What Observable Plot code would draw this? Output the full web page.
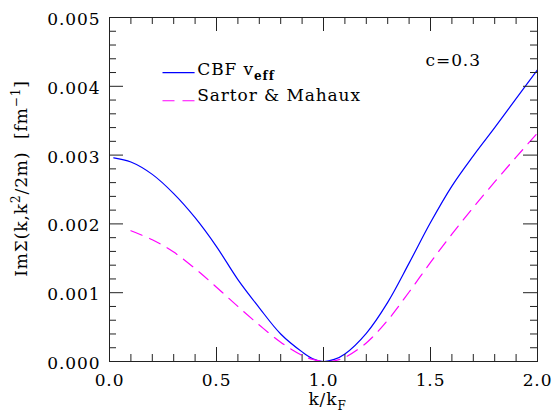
<!DOCTYPE html>
<html><head><meta charset="utf-8">
<script src="https://cdn.jsdelivr.net/npm/d3@7"></script>
<script src="https://cdn.jsdelivr.net/npm/@observablehq/plot@0.6"></script>
<style>
body{margin:0;background:#fff;}
#chart svg{display:block;}
</style>
</head><body><div id="chart"></div>
<script>
// k/kF and Im Sigma values
const kCBF  = [0.02,0.1,0.2,0.3,0.4,0.5,0.6,0.7,0.8,0.9,0.95,1.0,1.05,1.1,1.2,1.3,1.4,1.5,1.6,1.7,1.8,1.9,2.0];
const imCBF = [0.00296,0.0029,0.00272,0.00244,0.00209,0.00167,0.00119,0.00078,0.00040,0.00014,0.00004,0.0,0.00003,0.00011,0.00041,0.00086,0.00143,0.00202,0.00255,0.00299,0.0034,0.00382,0.00424];
const kSM   = [0.1,0.2,0.3,0.4,0.5,0.6,0.7,0.8,0.9,0.95,1.0,1.05,1.1,1.2,1.3,1.4,1.5,1.6,1.7,1.8,1.9,2.0];
const imSM  = [0.0019,0.00177,0.00159,0.00135,0.00108,0.0008,0.00053,0.00028,0.00009,0.00003,0.0,0.00001,0.00006,0.00027,0.0006,0.00101,0.00144,0.00185,0.00224,0.00261,0.00297,0.00332];

const xMajor = [0,0.5,1,1.5,2];
const xMinor = [0.1,0.2,0.3,0.4,0.6,0.7,0.8,0.9,1.1,1.2,1.3,1.4,1.6,1.7,1.8,1.9];
const yMajor = [0,0.001,0.002,0.003,0.004,0.005];
const yMinor = [0.0002,0.0004,0.0006,0.0008,0.0012,0.0014,0.0016,0.0018,0.0022,0.0024,0.0026,0.0028,0.0032,0.0034,0.0036,0.0038,0.0042,0.0044,0.0046,0.0048];

const seriesNames = ["CBF v_*{eff}", "Sartor & Mahaux"];
const seriesColors = ["#0000ff", "#ff00ff"];
const xLabel = "k/k_{F}";
const yLabel = "ImΣ(k,k^{2}/2m)  [fm^{−1}]";
const note = "c=0.3";

const W = 553, H = 418, mL = 109, mR = 16, mT = 17, mB = 57;
const pw = W - mL - mR, ph = H - mT - mB;
const major = 14, minor = 7, axisColor = "#222";

const cbf = kCBF.map((k, i) => ({k, v: imCBF[i]}));
const sm = kSM.map((k, i) => ({k, v: imSM[i]}));

const tickMarks = [
  Plot.tickX(xMajor, {x: d => d, insetTop: ph - major, stroke: axisColor}),
  Plot.tickX(xMajor, {x: d => d, insetBottom: ph - major, stroke: axisColor}),
  Plot.tickX(xMinor, {x: d => d, insetTop: ph - minor, stroke: axisColor}),
  Plot.tickX(xMinor, {x: d => d, insetBottom: ph - minor, stroke: axisColor}),
  Plot.tickY(yMajor, {y: d => d, insetRight: pw - major, stroke: axisColor}),
  Plot.tickY(yMajor, {y: d => d, insetLeft: pw - major, stroke: axisColor}),
  Plot.tickY(yMinor, {y: d => d, insetRight: pw - minor, stroke: axisColor}),
  Plot.tickY(yMinor, {y: d => d, insetLeft: pw - minor, stroke: axisColor})
];

const plot = Plot.plot({
  width: W, height: H,
  marginLeft: mL, marginRight: mR, marginTop: mT, marginBottom: mB,
  style: {fontFamily: "'DejaVu Serif', serif", fontSize: "17px", letterSpacing: "0.9px", color: "#000", background: "#fff"},
  x: {domain: [0, 2]},
  y: {domain: [0, 0.005]},
  marks: [
    Plot.line(cbf, {x: "k", y: "v", stroke: seriesColors[0], strokeWidth: 1.2, curve: "catmull-rom", clip: true}),
    Plot.line(sm, {x: "k", y: "v", stroke: seriesColors[1], strokeWidth: 1.2, curve: "catmull-rom", strokeDasharray: "12,8", clip: true}),
    // legend
    Plot.ruleY([0.0042], {x1: 0.25, x2: 0.40, stroke: seriesColors[0], strokeWidth: 1.2}),
    Plot.ruleY([0.00379], {x1: 0.25, x2: 0.40, stroke: seriesColors[1], strokeWidth: 1.2, strokeDasharray: "12,8"}),
    Plot.text([seriesNames[0]], {x: 0.41, y: 0.00425, text: d => d, textAnchor: "start"}),
    Plot.text([seriesNames[1]], {x: 0.41, y: 0.00386, text: d => d, textAnchor: "start"}),
    Plot.text([note], {x: 1.477, y: 0.004375, text: d => d, textAnchor: "start"}),
    ...tickMarks,
    Plot.frame({stroke: axisColor}),
    Plot.axisX(xMajor, {tickSize: 0, tickPadding: 12, tickFormat: d3.format(".1f"), label: null}),
    Plot.axisY(yMajor, {tickSize: 0, tickPadding: 9, dy: 2, tickFormat: d3.format(".3f"), label: null}),
    Plot.text([xLabel], {frameAnchor: "bottom", textAnchor: "middle", lineAnchor: "middle", dx: 4, dy: 38, text: d => d}),
    Plot.text([yLabel], {frameAnchor: "left", textAnchor: "middle", lineAnchor: "middle", rotate: -90, dx: -88, dy: -11, text: d => d})
  ]
});

// turn _{..} / ^{..} markup into real sub/superscript tspans
d3.select(plot).selectAll("text").each(function() {
  const t = this.textContent;
  if (!/[_^]\*?\{/.test(t)) return;
  const sel = d3.select(this);
  sel.text(null);
  const re = /([_^])(\*?)\{([^}]*)\}|([^_^]+)/g;
  let m, cur = 0;
  while ((m = re.exec(t))) {
    if (m[4] !== undefined) {
      const ts = sel.append("tspan").text(m[4]);
      if (cur !== 0) { ts.attr("dy", -cur); cur = 0; }
    } else {
      const target = m[1] === "^" ? -7 : 5;
      const ts = sel.append("tspan").text(m[3]).attr("font-size", "12px").attr("dy", target - cur);
      if (m[2]) ts.attr("font-weight", "bold");
      cur = target;
    }
  }
});

document.getElementById("chart").appendChild(plot);
</script>
</body></html>
